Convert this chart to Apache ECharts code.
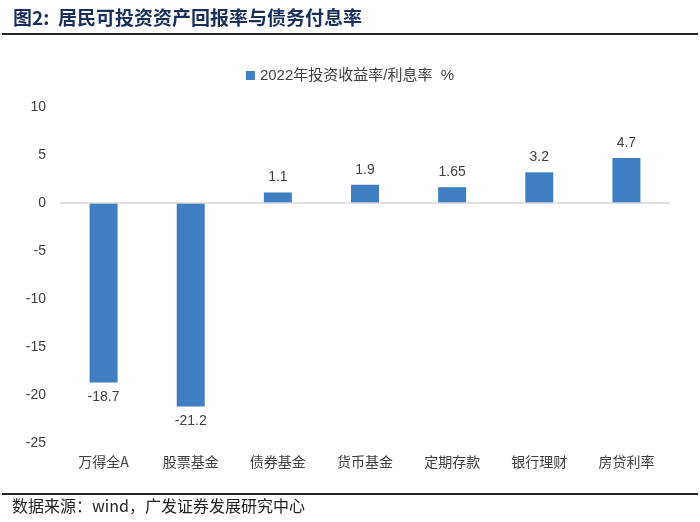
<!DOCTYPE html>
<html><head><meta charset="utf-8">
<script src="https://cdn.jsdelivr.net/npm/echarts@6/dist/echarts.min.js"></script>
<style>html,body{margin:0;padding:0;background:#fff}#c{width:700px;height:522px}</style>
</head><body><div id="c"></div>
<script>
const categories = ['万得全A','股票基金','债券基金','货币基金','定期存款','银行理财','房贷利率'];
const values = [-18.7, -21.2, 1.1, 1.9, 1.65, 3.2, 4.7];
const labelsText = ['-18.7','-21.2','1.1','1.9','1.65','3.2','4.7'];
const seriesName = '2022年投资收益率/利息率  %';
const titleText = '图2:  居民可投资资产回报率与债务付息率';
const sourceText = '数据来源：wind，广发证券发展研究中心';

const chart = echarts.init(document.getElementById('c'));
const cjk = '"Noto Sans CJK SC", "Liberation Sans", sans-serif';
chart.setOption({
  animation: false,
  textStyle: {fontFamily: '"Liberation Sans", "Noto Sans CJK SC", sans-serif'},
  title: {text: titleText, left: 8, top: 3,
    textStyle: {fontFamily: cjk, fontSize: 19, fontWeight: 'bold', color: '#1b2f5c'}},
  graphic: [
    {type: 'line', shape: {x1: 2, y1: 34, x2: 698, y2: 34}, style: {stroke: '#222', lineWidth: 2}},
    {type: 'line', shape: {x1: 2, y1: 494, x2: 698, y2: 494}, style: {stroke: '#222', lineWidth: 2}},
    {type: 'text', left: 12, top: 498, style: {text: sourceText, font: '16px "Noto Sans CJK SC", "Liberation Sans", sans-serif', fill: '#222'}}
  ],
  legend: {top: 63, left: 'center', itemWidth: 9, itemHeight: 9, icon: 'rect',
    textStyle: {fontSize: 15, color: '#404040', fontFamily: '"Liberation Sans", "Noto Sans CJK SC", sans-serif'},
    data: [seriesName]},
  grid: {left: 60, right: 30, top: 107, bottom: 79},
  xAxis: {type: 'category', data: categories,
    axisLine: {show: false, onZero: false}, axisTick: {show: false},
    axisLabel: {margin: 12, fontSize: 14, color: '#404040', fontFamily: cjk}},
  yAxis: {type: 'value', min: -25, max: 10, interval: 5,
    axisLine: {show: false}, axisTick: {show: false}, splitLine: {show: false},
    axisLabel: {fontSize: 14, color: '#404040', margin: 14}},
  series: [{
    name: seriesName, type: 'bar', barWidth: 28,
    itemStyle: {color: '#3f7fc1'},
    data: values.map((v, i) => ({value: v,
      label: {show: true, position: v < 0 ? 'bottom' : 'top', distance: 8,
        formatter: () => labelsText[i], fontSize: 14, color: '#404040'}})),
    markLine: {silent: true, symbol: 'none', label: {show: false},
      lineStyle: {color: '#d9d9d9', type: 'solid', width: 1.5},
      data: [{yAxis: 0}]}
  }]
});
</script></body></html>
